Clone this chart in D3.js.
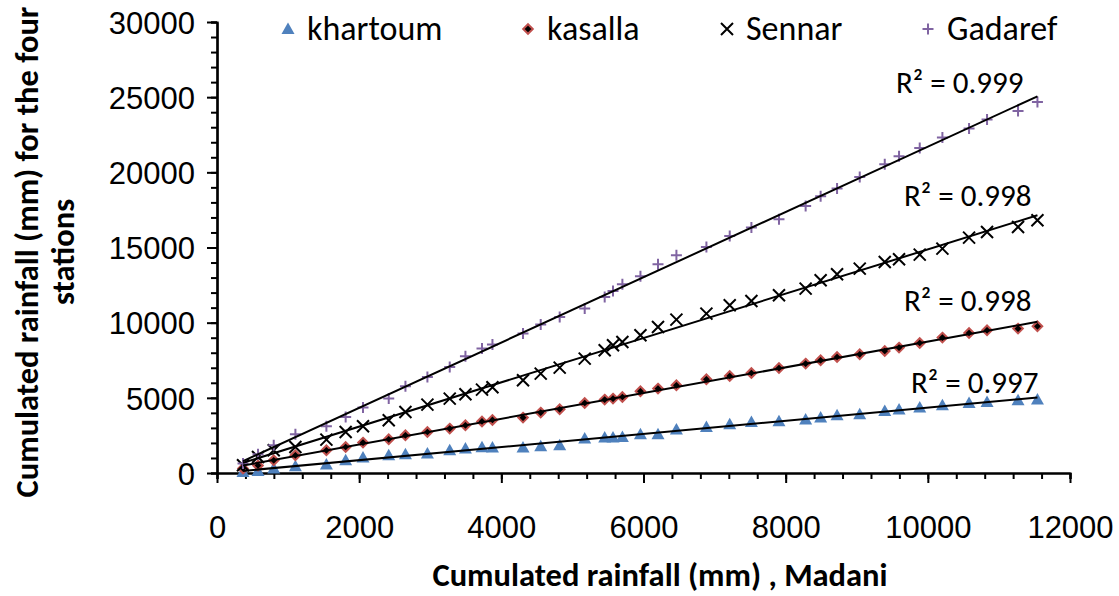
<!DOCTYPE html>
<html>
<head>
<meta charset="utf-8">
<script src="https://cdn.jsdelivr.net/npm/d3@7"></script>
<style>
  body { margin: 0; background: #fff; }
  svg { display: block; font-family: Carlito, Calibri, Lato, sans-serif; }
</style>
</head>
<body>
<div id="chart"></div>
<script>
// cumulated rainfall at Madani (x), shared by every station
const madani = [366, 577, 798, 1103, 1539, 1810, 2054, 2416, 2651, 2960, 3274, 3495, 3728, 3875,
  4305, 4554, 4821, 5173, 5454, 5571, 5703, 5957, 6204, 6463, 6885, 7213, 7518, 7906,
  8281, 8492, 8723, 9042, 9394, 9595, 9886, 10205, 10580, 10833, 11269, 11542];
const khartoum = [67, 133, 293, 446, 559, 845, 1024, 1177, 1244, 1290, 1510, 1623, 1710, 1690,
  1690, 1776, 1843, 2288, 2355, 2355, 2395, 2574, 2574, 2887, 3060, 3240, 3393, 3450,
  3552, 3685, 3838, 3905, 4124, 4217, 4350, 4503, 4656, 4723, 4836, 4883];
const kasalla = [300, 500, 845, 1177, 1510, 1730, 2022, 2242, 2508, 2727, 2953, 3173, 3430, 3530,
  3685, 4018, 4237, 4656, 4883, 4949, 5056, 5435, 5614, 5834, 6233, 6452, 6652, 6980,
  7277, 7497, 7716, 7896, 8116, 8342, 8648, 9007, 9313, 9493, 9606, 9759];
const sennar = [512, 1065, 1510, 1730, 2222, 2727, 3106, 3505, 4057, 4550, 4948, 5235, 5548, 5700,
  6166, 6612, 7011, 7609, 8162, 8494, 8714, 9160, 9712, 10204, 10603, 11155, 11441, 11820,
  12266, 12818, 13217, 13596, 14036, 14216, 14528, 14927, 15659, 16031, 16364, 16810];
const gadaref = [625, 1244, 1843, 2574, 3107, 3725, 4350, 4949, 5767, 6386, 7052, 7763, 8275, 8550,
  9273, 9872, 10377, 10936, 11707, 12107, 12552, 13084, 13882, 14481, 15033, 15765, 16324, 16876,
  17761, 18406, 18918, 19690, 20535, 21067, 21619, 22311, 22910, 23508, 24080, 24679];
const stations = ["khartoum", "kasalla", "Sennar", "Gadaref"];
const r2Labels = ["0.997", "0.998", "0.998", "0.999"];
const xTicks = [0, 2000, 4000, 6000, 8000, 10000, 12000];
const yTicks = [0, 5000, 10000, 15000, 20000, 25000, 30000];

const w = 1119;
const h = 596;
const svg = d3.select("#chart").append("svg").attr("width", w).attr("height", h);

const x = d3.scaleLinear().domain([0, 12000]).range([217, 1070]);
const y = d3.scaleLinear().domain([0, 30000]).range([473, 22]);

const series = [khartoum, kasalla, sennar, gadaref].map((vals, i) => ({
  name: stations[i],
  r2: r2Labels[i],
  points: madani.map((m, j) => [m, vals[j]]),
}));

// marker shapes
const marker = {
  khartoum: { d: "M0,-6.5L6.5,5L-6.5,5Z", fill: "#4f81bd", stroke: "none", sw: 0 },
  kasalla: { d: "M0,-4.8L4.8,0L0,4.8L-4.8,0Z", fill: "#000", stroke: "#c0504d", sw: 2 },
  Sennar: { d: "M-6,-6L6,6M6,-6L-6,6", fill: "none", stroke: "#000", sw: 2 },
  Gadaref: { d: "M-5.5,0H5.5M0,-5.5V5.5", fill: "none", stroke: "#8064a2", sw: 2 },
};

// axes
const fmt = d3.format("d");
const xAxis = svg.append("g").attr("transform", `translate(0,${y(0)})`);
xAxis.call(d3.axisBottom(x).tickValues(d3.range(0, 12001, 400)).tickSize(6).tickFormat(""));
xAxis.append("g").call(d3.axisBottom(x).tickValues(xTicks).tickSize(10).tickSizeOuter(0).tickFormat(fmt));
const yAxis = svg.append("g").attr("transform", `translate(${x(0)},0)`);
yAxis.call(d3.axisLeft(y).tickValues(d3.range(0, 30001, 1000)).tickSize(6).tickFormat(""));
yAxis.append("g").call(d3.axisLeft(y).tickValues(yTicks).tickSize(10).tickSizeOuter(0).tickFormat(fmt));
svg.selectAll(".domain").attr("stroke", "#000").attr("stroke-width", 2.2);
svg.selectAll(".tick line").attr("stroke", "#000").attr("stroke-width", 2);
xAxis.selectAll(".tick text").attr("y", 0).attr("dy", 65).attr("font-size", 31).attr("font-family", null).attr("fill", "#000");
yAxis.selectAll(".tick text").attr("x", -22).attr("dy", "0.36em").attr("font-size", 31).attr("font-family", null).attr("fill", "#000");

// points
series.forEach((s) => {
  const m = marker[s.name];
  svg.append("g")
    .selectAll("path")
    .data(s.points)
    .enter()
    .append("path")
    .attr("d", m.d)
    .attr("transform", (d) => `translate(${x(d[0])},${y(d[1])})`)
    .attr("fill", m.fill)
    .attr("stroke", m.stroke)
    .attr("stroke-width", m.sw);
});

// linear trend lines
const fit = (pts) => {
  const mx = d3.mean(pts, (d) => d[0]);
  const my = d3.mean(pts, (d) => d[1]);
  const b = d3.sum(pts, (d) => (d[0] - mx) * (d[1] - my)) / d3.sum(pts, (d) => (d[0] - mx) ** 2);
  return (v) => my + b * (v - mx);
};
const r2Pos = [[911, 393], [904, 311], [904, 206], [896, 93]];
series.forEach((s, i) => {
  const f = fit(s.points);
  const [x0, x1] = d3.extent(s.points, (d) => d[0]);
  svg.append("line")
    .attr("x1", x(x0)).attr("y1", y(f(x0)))
    .attr("x2", x(x1)).attr("y2", y(f(x1)))
    .attr("stroke", "#000").attr("stroke-width", 2);
  svg.append("text")
    .attr("x", r2Pos[i][0]).attr("y", r2Pos[i][1])
    .attr("font-size", 31)
    .text(`R² = ${s.r2}`);
});

// legend
const legendX = [288, 528, 727, 928];
const legend = svg.append("g");
series.forEach((s, i) => {
  const m = marker[s.name];
  legend.append("path")
    .attr("d", m.d)
    .attr("transform", `translate(${legendX[i]},29)`)
    .attr("fill", m.fill)
    .attr("stroke", m.stroke)
    .attr("stroke-width", m.sw);
  legend.append("text")
    .attr("x", legendX[i] + 19).attr("y", 40)
    .attr("font-size", 34)
    .text(s.name);
});

// axis titles
svg.append("text")
  .attr("x", 660).attr("y", 586)
  .attr("text-anchor", "middle").attr("font-size", 32.5).attr("font-weight", "bold")
  .text("Cumulated rainfall (mm) , Madani");
const yTitle = svg.append("text")
  .attr("transform", "translate(0,252) rotate(-90)")
  .attr("text-anchor", "middle").attr("font-size", 32.5).attr("font-weight", "bold");
yTitle.append("tspan").attr("x", 0).attr("y", 38).text("Cumulated rainfall (mm) for the four");
yTitle.append("tspan").attr("x", 0).attr("y", 74).text("stations");
</script>
</body>
</html>
